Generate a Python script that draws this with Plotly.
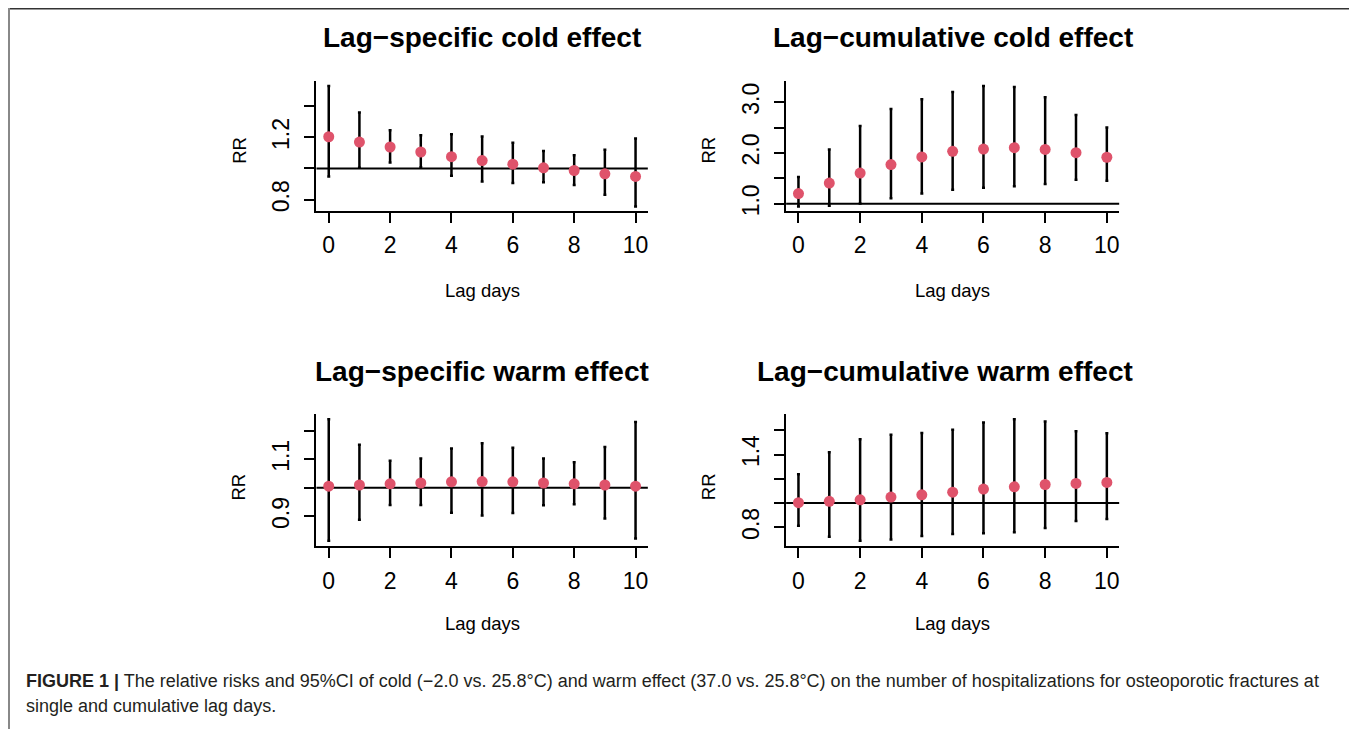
import plotly.graph_objects as go

# ---------------- data ----------------
lags = list(range(11))

cold_spec_rr = [1.204, 1.170, 1.138, 1.106, 1.076, 1.051, 1.028, 1.004, 0.987, 0.966, 0.949]
cold_spec_lo = [0.949, 1.004, 1.038, 1.008, 0.953, 0.917, 0.907, 0.911, 0.894, 0.832, 0.756]
cold_spec_hi = [1.530, 1.360, 1.246, 1.214, 1.220, 1.206, 1.165, 1.112, 1.085, 1.121, 1.193]

cold_cum_rr = [1.201, 1.409, 1.604, 1.773, 1.922, 2.032, 2.078, 2.104, 2.071, 2.006, 1.916]
cold_cum_lo = [0.948, 0.961, 1.006, 1.110, 1.201, 1.279, 1.318, 1.344, 1.390, 1.474, 1.455]
cold_cum_hi = [1.526, 2.071, 2.532, 2.864, 3.058, 3.201, 3.318, 3.299, 3.097, 2.747, 2.500]

warm_spec_rr = [1.006, 1.010, 1.014, 1.017, 1.021, 1.022, 1.021, 1.017, 1.014, 1.010, 1.006]
warm_spec_lo = [0.815, 0.888, 0.940, 0.940, 0.913, 0.903, 0.912, 0.939, 0.943, 0.893, 0.823]
warm_spec_hi = [1.240, 1.151, 1.095, 1.103, 1.138, 1.156, 1.140, 1.103, 1.090, 1.143, 1.231]

warm_cum_rr = [1.003, 1.014, 1.027, 1.049, 1.068, 1.090, 1.115, 1.134, 1.153, 1.162, 1.170]
warm_cum_lo = [0.814, 0.723, 0.690, 0.699, 0.729, 0.745, 0.751, 0.759, 0.795, 0.852, 0.868]
warm_cum_hi = [1.238, 1.419, 1.526, 1.562, 1.578, 1.603, 1.663, 1.690, 1.671, 1.592, 1.575]

titles = ["Lag\u2212specific cold effect", "Lag\u2212cumulative cold effect",
          "Lag\u2212specific warm effect", "Lag\u2212cumulative warm effect"]

x_tickvals = [0, 2, 4, 6, 8, 10]
x_ticktext = ["0", "2", "4", "6", "8", "10"]

y_tickvals = [[0.8, 1.0, 1.2, 1.4],
              [1.0, 1.5, 2.0, 2.5, 3.0],
              [0.9, 1.0, 1.1, 1.2],
              [0.8, 1.0, 1.2, 1.4, 1.6]]
y_ticktext = [["0.8", "", "1.2", ""],
              ["1.0", "", "2.0", "", "3.0"],
              ["0.9", "", "1.1", ""],
              ["0.8", "", "", "1.4", ""]]

x_label = "Lag days"
y_label = "RR"
caption_bold = "FIGURE 1 |"
caption_1 = (" The relative risks and 95%CI of cold (\u22122.0 vs. 25.8\u00b0C) and warm effect "
             "(37.0 vs. 25.8\u00b0C) on the number of hospitalizations for osteoporotic fractures at")
caption_2 = "single and cumulative lag days."

series = [(cold_spec_rr, cold_spec_lo, cold_spec_hi),
          (cold_cum_rr, cold_cum_lo, cold_cum_hi),
          (warm_spec_rr, warm_spec_lo, warm_spec_hi),
          (warm_cum_rr, warm_cum_lo, warm_cum_hi)]

# ---------------- layout helpers (page pixel -> paper) ----------------
# the page body has an 8px margin, so the figure starts at (8, 8)
OFF = 8
W, H = 1349, 721
def px(x):
    return (x - OFF) / W
def py(y):
    return 1 - (y - OFF) / H

FONT = "Liberation Sans, Arial, Helvetica, sans-serif"
PINK = "#DF536B"

# plot regions in page pixels: (left, right, top, bottom)
regions = [(316.7, 648.3, 81.7, 212.7),
           (786.7, 1120.0, 81.7, 212.7),
           (316.7, 648.3, 417.3, 549.3),
           (786.7, 1120.0, 417.3, 549.3)]
title_pos = [(482.5, 38), (953.4, 38), (482.5, 374), (946, 374)]
xlab_y = [292, 292, 628, 628]
ylab_y = [151, 151, 490, 490]
ylab_x = [239, 709, 239, 709]
x_standoff = [2, 2, 4, 4]

fig = go.Figure()
layout = dict(
    width=W, height=H,
    margin=dict(l=0, r=0, t=0, b=0),
    paper_bgcolor="white", plot_bgcolor="white",
    showlegend=False,
    font=dict(family=FONT, color="black"),
)
shapes = []
annotations = []

for i, ((rr, lo, hi), reg) in enumerate(zip(series, regions)):
    k = i + 1
    xa = "x" if k == 1 else f"x{k}"
    ya = "y" if k == 1 else f"y{k}"
    xkey = "xaxis" if k == 1 else f"xaxis{k}"
    ykey = "yaxis" if k == 1 else f"yaxis{k}"

    fig.add_trace(go.Scatter(
        x=lags, y=rr, mode="markers",
        marker=dict(color=PINK, size=11),
        error_y=dict(type="data", symmetric=False,
                     array=[h - r for h, r in zip(hi, rr)],
                     arrayminus=[r - l for r, l in zip(rr, lo)],
                     color="black", thickness=2.5, width=1.5),
        xaxis=xa, yaxis=ya, hoverinfo="skip"))

    ymin, ymax = min(lo), max(hi)
    d = ymax - ymin
    yr = [ymin - 0.04 * d, ymax + 0.04 * d]

    left, right, top, bottom = reg
    layout[xkey] = dict(
        domain=[px(left), px(right)], anchor=ya, range=[-0.4, 10.4],
        showline=True, linecolor="black", linewidth=2,
        ticks="outside", ticklen=10, tickwidth=2, tickcolor="black",
        tickvals=x_tickvals, ticktext=x_ticktext,
        tickfont=dict(size=23, family=FONT, color="black"),
        ticklabelstandoff=x_standoff[i],
        showgrid=False, zeroline=False, fixedrange=True)
    layout[ykey] = dict(
        domain=[py(bottom), py(top)], anchor=xa, range=yr,
        showline=True, linecolor="black", linewidth=2,
        ticks="outside", ticklen=10, tickwidth=2, tickcolor="black",
        tickvals=y_tickvals[i], ticktext=y_ticktext[i], tickangle=-90,
        tickfont=dict(size=23, family=FONT, color="black"),
        ticklabelstandoff=6,
        showgrid=False, zeroline=False, fixedrange=True)

    shapes.append(dict(type="line", xref=f"{xa} domain", x0=0, x1=1,
                       yref=ya, y0=1, y1=1, layer="below",
                       line=dict(color="black", width=2)))

    tx, ty = title_pos[i]
    annotations.append(dict(text="<b>" + titles[i] + "</b>", x=px(tx), y=py(ty),
                            xref="paper", yref="paper", showarrow=False,
                            xanchor="center", yanchor="middle",
                            font=dict(size=28, family=FONT, color="black")))
    annotations.append(dict(text=x_label, x=px((left + right) / 2), y=py(xlab_y[i]),
                            xref="paper", yref="paper", showarrow=False,
                            xanchor="center", yanchor="middle",
                            font=dict(size=18.5, family=FONT, color="black")))
    annotations.append(dict(text=y_label, x=px(ylab_x[i]), y=py(ylab_y[i]),
                            xref="paper", yref="paper", showarrow=False,
                            xanchor="center", yanchor="middle", textangle=-90,
                            font=dict(size=18.5, family=FONT, color="black")))

# caption
annotations.append(dict(text="<b>" + caption_bold + "</b>" + caption_1,
                        x=px(24), y=py(686), xref="paper", yref="paper",
                        showarrow=False, xanchor="left", yanchor="middle",
                        font=dict(size=18, family=FONT, color="#231f20")))
annotations.append(dict(text=caption_2,
                        x=px(24), y=py(711), xref="paper", yref="paper",
                        showarrow=False, xanchor="left", yanchor="middle",
                        font=dict(size=18, family=FONT, color="#231f20")))

# frame around the figure
shapes.append(dict(type="line", xref="paper", yref="paper",
                   x0=px(8), x1=px(1353), y0=py(8.7), y1=py(8.7),
                   line=dict(color="#333333", width=1.5)))
shapes.append(dict(type="line", xref="paper", yref="paper",
                   x0=px(9), x1=px(9), y0=py(8), y1=py(735),
                   line=dict(color="#888888", width=2)))
shapes.append(dict(type="line", xref="paper", yref="paper",
                   x0=px(1353), x1=px(1353), y0=py(8), y1=py(735),
                   line=dict(color="#888888", width=2)))

layout["shapes"] = shapes
layout["annotations"] = annotations
fig.update_layout(**layout)

fig.write_html("out.html")
